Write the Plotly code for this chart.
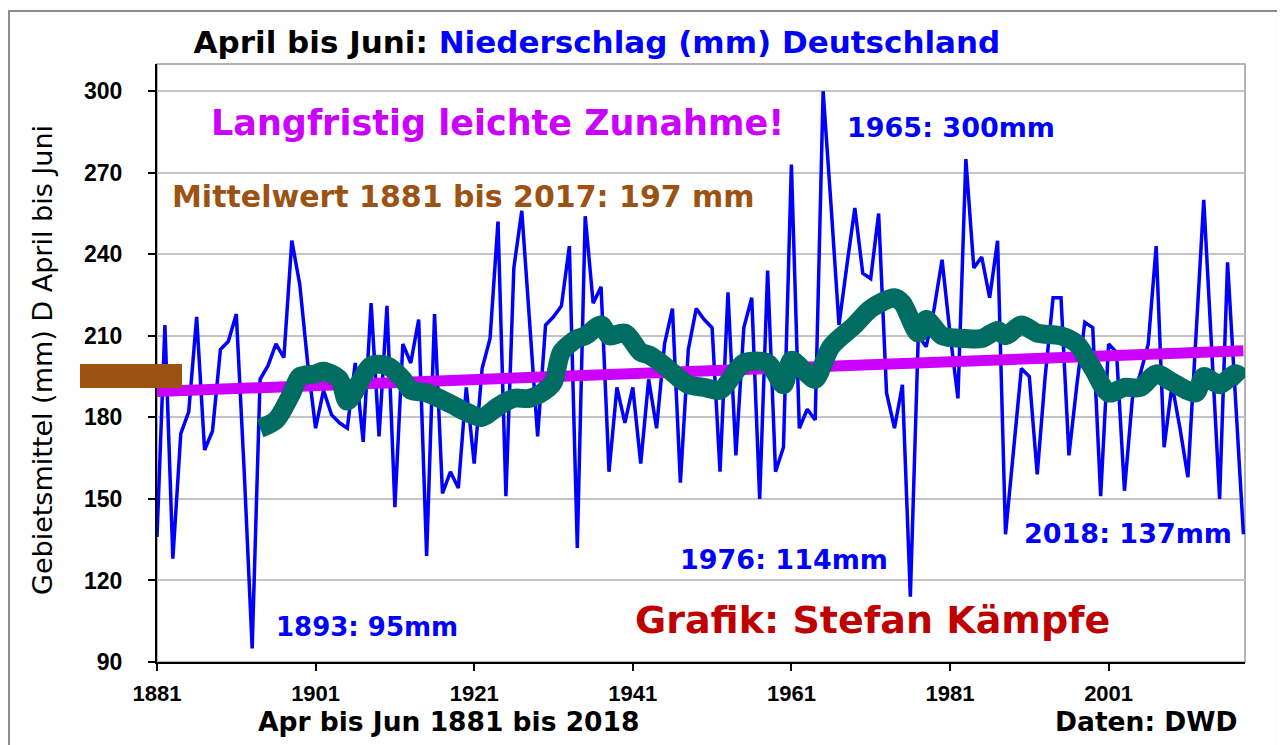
import plotly.graph_objects as go

# ---------------- data ----------------
years = list(range(1881, 2019))
rain = [
    136, 214, 128, 174, 182, 217, 168, 175, 205, 208,   # 1881-1890
    218, 160, 95, 194, 199, 207, 202, 245, 229, 200,    # 1891-1900
    176, 190, 181, 178, 176, 200, 171, 222, 173, 221,   # 1901-1910
    147, 207, 200, 216, 129, 218, 152, 160, 154, 191,   # 1911-1920
    163, 198, 209, 252, 151, 235, 256, 215, 173, 214,   # 1921-1930
    217, 221, 243, 132, 254, 222, 228, 160, 191, 178,   # 1931-1940
    191, 163, 194, 176, 207, 220, 156, 205, 220, 216,   # 1941-1950
    213, 160, 226, 166, 213, 224, 150, 234, 160, 169,   # 1951-1960
    273, 176, 183, 179, 300, 258, 214, 236, 257, 233,   # 1961-1970
    231, 255, 189, 176, 192, 114, 210, 206, 220, 238,   # 1971-1980
    211, 187, 275, 235, 239, 224, 245, 137, 167, 198,   # 1981-1990
    195, 159, 195, 224, 224, 166, 192, 215, 213, 151,   # 1991-2000
    207, 204, 153, 187, 196, 207, 243, 169, 192, 176,   # 2001-2010
    158, 209, 260, 205, 150, 237, 187, 137,             # 2011-2018
]

ma_years = [1894, 1896, 1898, 1899, 1901, 1902, 1904, 1905, 1908, 1910,
            1912, 1913, 1915, 1918, 1920, 1922, 1924, 1926, 1928, 1930,
            1931, 1932, 1934, 1935, 1937, 1938, 1940, 1942, 1943, 1945,
            1947, 1948, 1950, 1952, 1955, 1958, 1960, 1961, 1963, 1964,
            1966, 1969, 1971, 1974, 1975, 1977, 1978, 1980, 1983, 1985,
            1987, 1988, 1990, 1992, 1995, 1997, 1999, 2001, 2003, 2005,
            2007, 2009, 2012, 2013, 2015, 2017, 2018]
ma_values = [176, 179, 189, 195, 196, 197, 194, 186, 199, 199,
             194, 190, 189, 185, 182, 180, 184, 187, 187, 190,
             193, 204, 209, 210, 214, 210, 211, 204, 203, 199,
             194, 192, 191, 190, 200, 200, 192, 201, 196, 194,
             206, 214, 220, 224, 222, 211, 216, 210, 209, 209,
             212, 210, 214, 211, 210, 207, 198, 189, 191, 191,
             196, 193, 189, 195, 192, 196, 194]

trend_years = [1881, 2018]
trend_values = [189.5, 204.5]

mean_value = 197

y_ticks = [90, 120, 150, 180, 210, 240, 270, 300]
x_ticks = [1881, 1901, 1921, 1941, 1961, 1981, 2001]

# ---------------- figure ----------------
BLUE = "#0000ff"
MAGENTA = "#cc00ff"
TEAL = "#006c62"
BROWN = "#9b5212"
DARKRED = "#c00000"

fig = go.Figure()

fig.add_trace(go.Scatter(x=years, y=rain, mode="lines",
                         line=dict(color=BLUE, width=3.5), showlegend=False,
                         hoverinfo="skip"))
fig.add_trace(go.Scatter(x=trend_years, y=trend_values, mode="lines",
                         line=dict(color=MAGENTA, width=11), showlegend=False,
                         hoverinfo="skip"))
fig.add_trace(go.Scatter(x=ma_years, y=ma_values, mode="lines",
                         line=dict(color=TEAL, width=19, shape="spline",
                                   smoothing=0.8),
                         showlegend=False, hoverinfo="skip"))

ann_font = "DejaVu Sans"
annotations = [
    dict(text="Langfristig leichte Zunahme!", x=0.3134, y=0.9013,
         font=dict(family=ann_font, size=35, color=MAGENTA, weight="bold")),
    dict(text="Mittelwert 1881 bis 2017: 197 mm", x=0.2813, y=0.7776,
         font=dict(family=ann_font, size=30, color=BROWN, weight="bold")),
    dict(text="1965: 300mm", x=0.7298, y=0.8946,
         font=dict(family=ann_font, size=27, color=BLUE, weight="bold")),
    dict(text="1893: 95mm", x=0.193, y=0.0585,
         font=dict(family=ann_font, size=26, color=BLUE, weight="bold")),
    dict(text="1976: 114mm", x=0.5763, y=0.1706,
         font=dict(family=ann_font, size=27, color=BLUE, weight="bold")),
    dict(text="2018: 137mm", x=0.8925, y=0.2157,
         font=dict(family=ann_font, size=27, color=BLUE, weight="bold")),
    dict(text="Grafik: Stefan Kämpfe", x=0.6572, y=0.0702,
         font=dict(family=ann_font, size=38, color=DARKRED, weight="bold")),
    dict(text="Daten: DWD", x=0.909, y=-0.0995,
         font=dict(family=ann_font, size=26.5, color="black", weight="bold")),
    dict(text="Apr bis Jun 1881 bis 2018", x=0.2675, y=-0.1003,
         font=dict(family=ann_font, size=26.5, color="black", weight="bold")),
    dict(text="Gebietsmittel (mm) D April bis Juni", x=-0.1057, y=0.505,
         textangle=-90,
         font=dict(family=ann_font, size=27, color="black")),
]
for a in annotations:
    a.update(xref="paper", yref="paper", showarrow=False,
             xanchor="center", yanchor="middle")

shapes = [
    # outer frame
    dict(type="rect", xref="paper", yref="paper", x0=-0.136, x1=1.0303,
         y0=-0.16, y1=1.0886, line=dict(color="#8c8c8c", width=2),
         layer="below"),
    # plot frame (top/right grey)
    dict(type="rect", xref="paper", yref="paper", x0=0, x1=1, y0=0, y1=1,
         line=dict(color="#9a9a9a", width=1.5), layer="below"),
    # mean bar
    dict(type="rect", xref="paper", yref="y", x0=-0.0708, x1=0.023,
         y0=mean_value - 6.2, y1=mean_value + 2.6,
         fillcolor=BROWN, line=dict(width=0), layer="above"),
]

fig.update_layout(
    width=1277, height=737,
    margin=dict(l=149, r=40, t=56, b=83),
    paper_bgcolor="white", plot_bgcolor="white",
    title=dict(
        text="April bis Juni: <span style='color:#0000ff'>Niederschlag (mm) Deutschland</span>",
        x=0.4612, y=0.9539, xref="container", yref="container",
        xanchor="center", yanchor="middle",
        font=dict(family=ann_font, size=31, color="black", weight="bold"),
    ),
    annotations=annotations,
    shapes=shapes,
    xaxis=dict(range=[1881, 2018.2], tickmode="array", tickvals=x_ticks,
               ticktext=[str(t) for t in x_ticks], showgrid=False,
               zeroline=False, showline=True, linecolor="black", linewidth=2,
               ticks="outside", ticklen=7, tickwidth=2, tickcolor="black",
               ticklabelstandoff=4,
               tickfont=dict(family="Liberation Sans", size=22, color="black",
                             weight="bold")),
    yaxis=dict(range=[90, 310], tickmode="array", tickvals=y_ticks,
               ticktext=[str(t) for t in y_ticks], showgrid=True,
               gridcolor="#c4c4c4", gridwidth=1.5, zeroline=False,
               showline=True, linecolor="black", linewidth=2,
               ticks="outside", ticklen=7, tickwidth=2, tickcolor="black",
               ticklabelstandoff=21,
               tickfont=dict(family="Liberation Sans", size=23, color="black",
                             weight="bold")),
)

fig.write_html("out.html")
